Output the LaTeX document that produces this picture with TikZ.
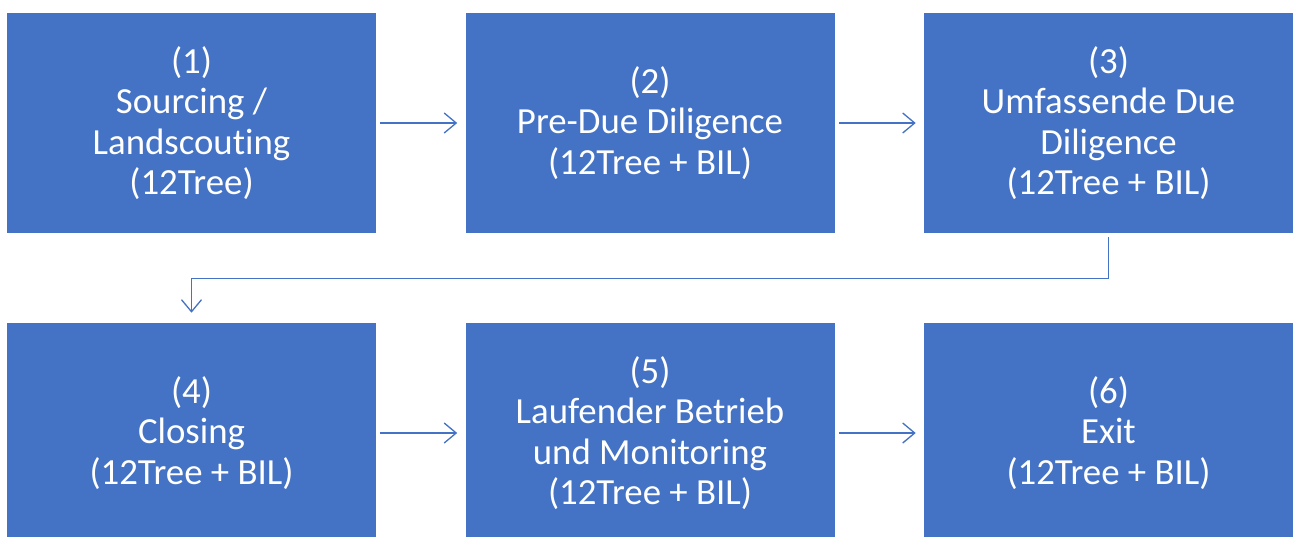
\documentclass[tikz,border=0pt]{standalone}
\usepackage{fontspec}
\setmainfont{Carlito}[Ligatures={NoCommon}]
\usepackage{tikz}
\usetikzlibrary{arrows.meta}

\definecolor{stepblue}{RGB}{68,114,196}

\begin{document}
\begin{tikzpicture}[x=0.75pt,y=0.75pt,yscale=-1,xscale=1,
    stepbox/.style={fill=stepblue,draw=none,minimum width=276.75pt,minimum height=165pt,
        text=white,align=center,font=\fontsize{27.6}{30.4}\selectfont,inner sep=0pt},
    flow/.style={draw=stepblue,line width=1pt,-{Straight Barb[length=9pt,width=15pt,line width=1pt]},
        shorten <=3pt,shorten >=6pt}]

    \useasboundingbox (0,0) rectangle (1293,536);

    % Top row
    \node[stepbox] (sourcing) at (191.5,123) {(1)\\Sourcing /\\Landscouting\\(12Tree)};
    \node[stepbox] (predue) at (650,123) {(2)\\Pre-Due Diligence\\(12Tree + BIL)};
    \node[stepbox] (fulldue) at (1108.5,123) {(3)\\Umfassende Due\\Diligence\\(12Tree + BIL)};

    % Bottom row
    \node[stepbox] (closing) at (191.5,433) {(4)\\Closing\\(12Tree + BIL)};
    \node[stepbox] (betrieb) at (650,433) {(5)\\Laufender Betrieb\\und Monitoring\\(12Tree + BIL)};
    \node[stepbox] (exit) at (1108.5,433) {(6)\\Exit\\(12Tree + BIL)};

    % Arrows
    \draw[flow] (sourcing) -- (predue);
    \draw[flow] (predue) -- (fulldue);
    \draw[flow,shorten >=7.5pt] (fulldue.south) -- ++(0,45) -| (closing.north);
    \draw[flow] (closing) -- (betrieb);
    \draw[flow] (betrieb) -- (exit);

\end{tikzpicture}
\end{document}
